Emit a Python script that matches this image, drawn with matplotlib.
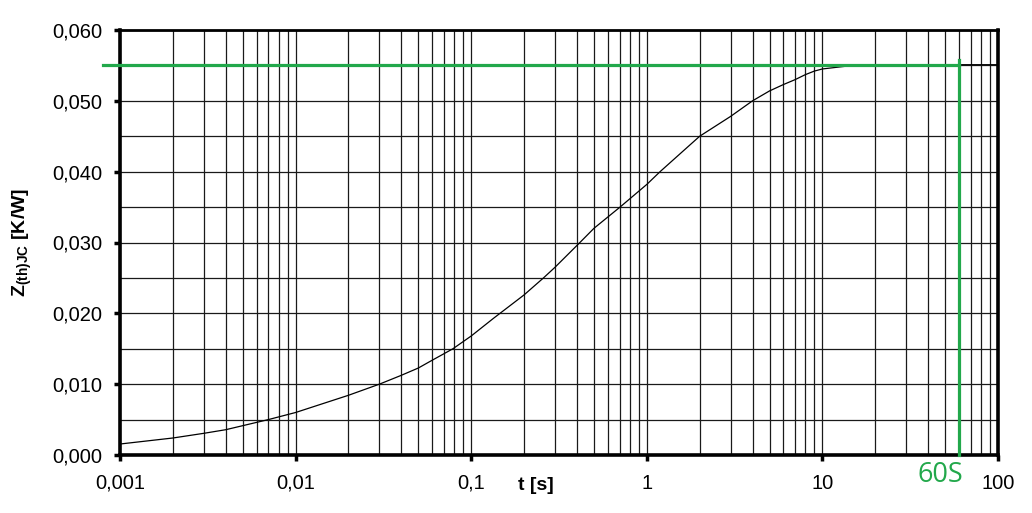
import matplotlib
matplotlib.use("Agg")
import matplotlib.pyplot as plt
from matplotlib.ticker import FixedLocator, LogLocator, FuncFormatter, NullFormatter

plt.rcParams['font.family'] = ['Liberation Sans', 'DejaVu Sans']
plt.rcParams['mathtext.fontset'] = 'custom'
plt.rcParams['mathtext.rm'] = 'Liberation Sans'
plt.rcParams['mathtext.bf'] = 'Liberation Sans:bold'

# thermal impedance curve
t_s = [0.001, 0.002, 0.003, 0.004, 0.005, 0.007, 0.01, 0.02, 0.03, 0.04,
       0.05, 0.058, 0.0787, 0.1, 0.134, 0.2, 0.258, 0.3, 0.416, 0.5, 0.704, 1.0,
       1.19, 2.0, 3.0, 4.0, 5.0, 6.0, 7.0, 8.0, 9.0, 10.0, 12.7, 15, 20, 100]
zth = [0.00155, 0.0024, 0.00306, 0.00357, 0.00414, 0.0050, 0.0060, 0.00843, 0.0100, 0.01125,
       0.01228, 0.01318, 0.0150, 0.0168, 0.0193, 0.0226, 0.0250, 0.0265, 0.0300, 0.0320, 0.0350, 0.0382,
       0.0400, 0.0450, 0.0478, 0.0500, 0.0514, 0.0523, 0.0530, 0.0537, 0.0542, 0.0545, 0.0548, 0.0550, 0.0551, 0.0551]

x_ticks = [0.001, 0.01, 0.1, 1, 10, 100]
x_ticklabels = ["0,001", "0,01", "0,1", "1", "10", "100"]
y_ticks = [0.0, 0.010, 0.020, 0.030, 0.040, 0.050, 0.060]

# marked operating point
mark_t = 60
mark_z = 0.055
mark_label = "60S"
green = "#22a84b"

fig = plt.figure(figsize=(10.32, 5.13), dpi=100)
ax = fig.add_axes([120 / 1032, 58 / 513, 878 / 1032, 425 / 513])

ax.set_xscale("log")
ax.set_xlim(0.001, 100)
ax.set_ylim(0, 0.060)

ax.xaxis.set_major_locator(FixedLocator(x_ticks))
ax.set_xticklabels(x_ticklabels)
ax.xaxis.set_minor_locator(LogLocator(base=10, subs=range(2, 10), numticks=20))
ax.xaxis.set_minor_formatter(NullFormatter())
ax.yaxis.set_major_locator(FixedLocator(y_ticks))
ax.yaxis.set_minor_locator(FixedLocator([0.005 + 0.01 * i for i in range(6)]))
ax.yaxis.set_major_formatter(FuncFormatter(lambda v, p: ("%.3f" % v).replace(".", ",")))

ax.grid(True, which="both", color="#1a1a1a", lw=0.9)
ax.set_axisbelow(True)
ax.tick_params(which="major", direction="out", length=4.5, width=2.5, pad=8, labelsize=14.5)
ax.tick_params(which="minor", length=0)
ax.tick_params(axis="x", pad=9)

for s in ["left", "bottom", "right"]:
    ax.spines[s].set_linewidth(2.6)
ax.spines["top"].set_linewidth(2.0)

ax.plot(t_s, zth, color="black", lw=0.9, zorder=3)

# green marker lines
ax.plot([0.0008, mark_t], [mark_z, mark_z], color=green, lw=2.3, clip_on=False, zorder=4)
ax.plot([mark_t, mark_t], [0, mark_z + 0.0007], color=green, lw=2.3, clip_on=False, zorder=4)
ax.annotate(mark_label, xy=(mark_t, 0), xytext=(3, -4), textcoords="offset points",
            ha="right", va="top", color=green, fontsize=19.5, family="Open Sans")

ax.set_xlabel("t [s]", fontsize=14, fontweight="bold")
ax.xaxis.set_label_coords(0.4733, -0.052)
ax.set_ylabel(r"$\mathbf{Z_{(th)JC}}$ [K/W]", fontsize=14, fontweight="bold")
ax.yaxis.set_label_coords(-0.098, 0.5)

fig.savefig("out.png", dpi=100)
